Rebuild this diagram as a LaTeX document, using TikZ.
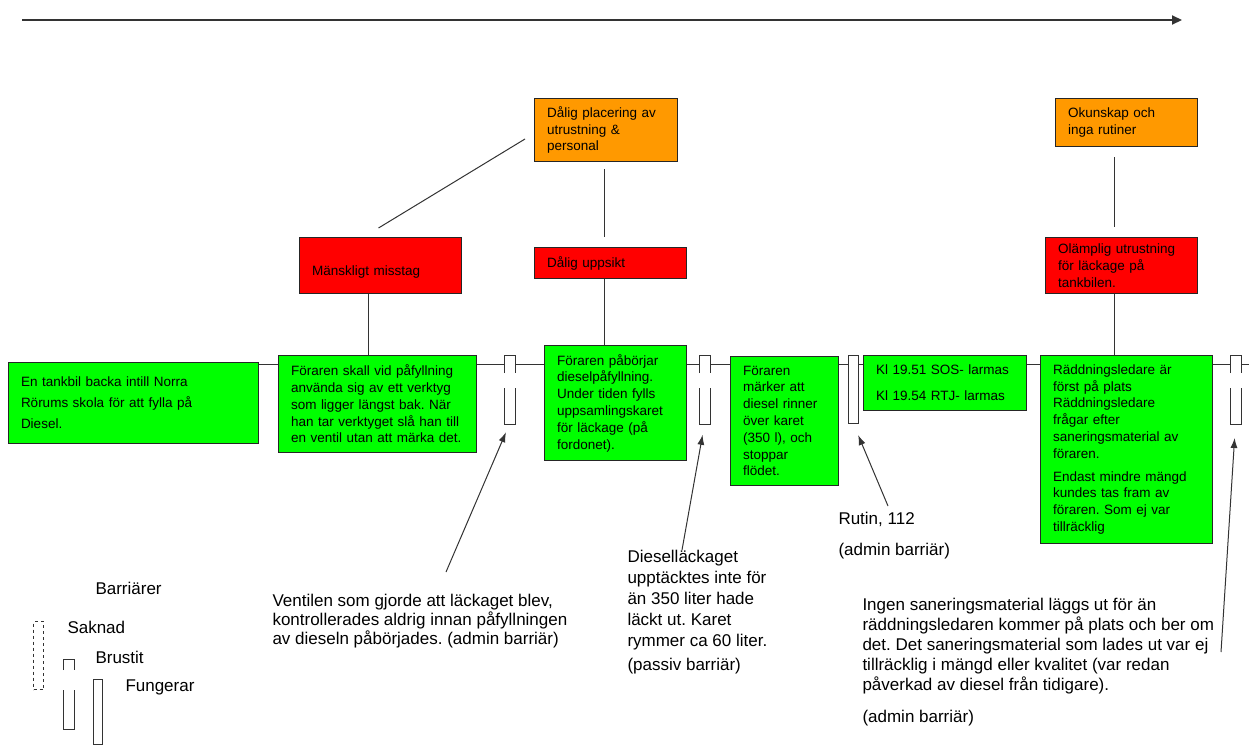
\documentclass[tikz,border=0pt]{standalone}
\usepackage{fontspec}
\setmainfont{Liberation Sans}
\usepackage{tikz}
\usetikzlibrary{arrows.meta}
\definecolor{grn}{HTML}{00FF00}
\definecolor{rd}{HTML}{FF0000}
\definecolor{org}{HTML}{FF9900}
\frenchspacing

\begin{document}
\begin{tikzpicture}[x=1pt,y=-1pt,line width=1pt]
\tikzstyle{ev}=[rectangle,draw=black!85,anchor=north west,inner xsep=12.5pt,inner ysep=0pt,align=left,font=\fontsize{13.5}{16.8}\selectfont]
\tikzstyle{fact}=[ev,fill=grn]
\tikzstyle{cause}=[ev,fill=rd]
\tikzstyle{root}=[ev,fill=org]
\tikzstyle{note}=[anchor=north west,inner sep=0pt,align=left,font=\fontsize{17}{19.5}\selectfont]
\tikzstyle{bar}=[rectangle,anchor=north west,inner sep=0pt,minimum width=10pt,minimum height=68pt]
\tikzstyle{link}=[draw=black!80]
\tikzstyle{pointer}=[-{Latex[length=10pt,width=7pt]},black!80]
\useasboundingbox (0,0) rectangle (1249,744);

% time axis
\coordinate (t0) at (22,20);
\coordinate (t1) at (1182,20);
\draw[line width=2pt,black!80,-{Triangle[length=10pt,width=9pt]}] (t0) -- (t1);

% events
\node[fact,text width=225pt,minimum height=81pt,font=\fontsize{13.5}{21}\selectfont] (b1) at (8,362) {En tankbil backa intill Norra\\Rörums skola för att fylla på\\Diesel.};
\node[fact,text width=173pt,minimum height=97pt] (b2) at (278,355) {Föraren skall vid påfyllning\\använda sig av ett verktyg\\som ligger längst bak. När\\han tar verktyget slå han till\\en ventil utan att märka det.};
\node[fact,text width=117pt,minimum height=115pt] (b3) at (544,345) {Föraren påbörjar\\dieselpåfyllning.\\Under tiden fylls\\uppsamlingskaret\\för läckage (på\\fordonet).};
\node[fact,text width=83pt,minimum height=129pt] (b4) at (730,356) {Föraren\\märker att\\diesel rinner\\över karet\\(350 l), och\\stoppar\\flödet.};
\node[fact,text width=138pt,minimum height=55pt,font=\fontsize{13.5}{26}\selectfont] (b5) at (863,355) {Kl 19.51 SOS- larmas\\Kl 19.54 RTJ- larmas};
\node[fact,text width=147pt,minimum height=188pt] (b6) at (1040,355) {Räddningsledare är\\först på plats\\Räddningsledare\\frågar efter\\saneringsmaterial av\\föraren.\\[6pt]Endast mindre mängd\\kundes tas fram av\\föraren. Som ej var\\tillräcklig};

% causes
\node[cause,text width=137pt,minimum height=56pt] (r1) at (299,237) {\mbox{}\\[5pt]Mänskligt misstag};
\node[cause,text width=127pt,minimum height=31pt] (r2) at (534,247) {Dålig uppsikt};
\node[cause,text width=127pt,minimum height=56pt] (r3) at (1045,237) {Olämplig utrustning\\för läckage på\\tankbilen.};
\node[root,text width=118pt,minimum height=63pt] (o1) at (534,98) {Dålig placering av\\utrustning \&\\personal};
\node[root,text width=117pt,minimum height=48pt] (o2) at (1055,98) {Okunskap och\\inga rutiner};

% barriers
\node[bar] (k1) at (504,355) {};
\node[bar] (k2) at (699,355) {};
\node[bar,draw=black!80] (k3) at (848,355) {};
\node[bar] (k4) at (1230,355) {};

% legend
\node[note,anchor=west] (lg) at (95,588) {Barriärer};
\node[bar,draw=black!80,dashed,minimum height=68pt] (l1) at (33,621) {};
\node[note,anchor=west] (lg1) at (67,627) {Saknad};
\node[bar,minimum height=69pt] (l2) at (63,659) {};
\node[note,anchor=west] (lg2) at (95,657) {Brustit};
\node[bar,draw=black!80,minimum width=9pt,minimum height=65pt] (l3) at (93,679) {};
\node[note,anchor=west] (lg3) at (125,687) {Fungerar};

\foreach \k/\u/\v in {k1/18pt/33pt,k2/18pt/33pt,k4/18pt/33pt,l2/11pt/31pt}{
  \draw[black!80] ([yshift=-\u]\k.north west) -- (\k.north west) -- (\k.north east) -- ([yshift=-\u]\k.north east);
  \draw[black!80] ([yshift=-\v]\k.north west) -- (\k.south west) -- (\k.south east) -- ([yshift=-\v]\k.north east);
}

% time line
\coordinate (tl) at (0,364);
\coordinate (tlend) at (1249,364);
\foreach \a/\b in {b1/b2,b2/k1,k1/b3,b3/k2,k2/b4,b4/k3,k3/b5,b5/b6,b6/k4}
  \draw[link] (\a.east |- tl) -- (\b.west |- tl);
\draw[link] (k4.east |- tl) -- (tlend);

% causes to events
\draw[link] ([xshift=-12pt]r1.south) -- ([xshift=-12pt]r1.south |- b2.north);
\draw[link,shorten <=7pt,shorten >=10pt] ([xshift=-1.5pt]o1.south) -- ([xshift=-1.5pt]o1.south |- r2.north);
\draw[link] ([xshift=-1.5pt]o1.south |- r2.south) -- ([xshift=-1.5pt]o1.south |- b3.north);
\draw[link] ([shift={(-9,9)}]o1.west) -- ([shift={(-2,-9)}]r1.north);
\draw[link,shorten <=10pt,shorten >=10pt] ([xshift=-12pt]o2.south) -- ([xshift=-12pt]o2.south |- r3.north);
\draw[link] ([xshift=-7pt]r3.south) -- ([xshift=-7pt]r3.south |- b6.north);

% notes
\node[note,font=\fontsize{17}{19}\selectfont] (n1) at (272,594) {Ventilen som gjorde att läckaget blev,\\kontrollerades aldrig innan påfyllningen\\av dieseln påbörjades. (admin barriär)};
\node[note,font=\fontsize{17}{21}\selectfont] (n2) at (627,550) {Dieselläckaget\\upptäcktes inte för\\än 350 liter hade\\läckt ut. Karet\\rymmer ca 60 liter.\\[3pt](passiv barriär)};
\node[note,font=\fontsize{17}{19}\selectfont] (n3) at (838,512) {Rutin, 112\\[12pt](admin barriär)};
\node[note,font=\fontsize{17}{20}\selectfont] (n4) at (862,598) {Ingen saneringsmaterial läggs ut för än\\räddningsledaren kommer på plats och ber om\\det. Det saneringsmaterial som lades ut var ej\\tillräcklig i mängd eller kvalitet (var redan\\påverkad av diesel från tidigare).\\[12pt](admin barriär)};

\coordinate (p1) at (446,572);
\coordinate (p2) at (682,550);
\coordinate (p3) at (888,506);
\coordinate (p4) at (1221,652);
\draw[pointer,shorten >=9pt] (p1) -- (k1.south);
\draw[pointer,shorten >=11pt] (p2) -- (k2.south);
\draw[pointer,shorten >=12pt] (p3) -- (k3.south);
\draw[pointer,shorten >=14pt] (p4) -- (k4.south);
\end{tikzpicture}
\end{document}
